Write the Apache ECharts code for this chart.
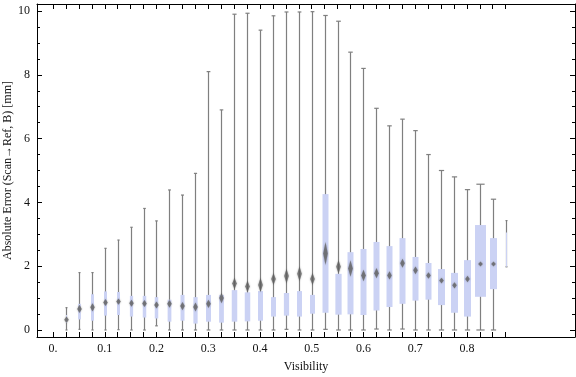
<!DOCTYPE html>
<html>
<head>
<meta charset="utf-8">
<script src="https://cdn.jsdelivr.net/npm/echarts@6/dist/echarts.min.js"></script>
<style>
html,body{margin:0;padding:0;background:#fff}
#main{width:576px;height:377px}
</style>
</head>
<body>
<div id="main"></div>
<script>
// 每个区间的中心 (Visibility)
var visibility = [0.025,0.05,0.075,0.1,0.125,0.15,0.175,0.2,0.225,0.25,0.275,0.3,0.325,0.35,0.375,0.4,0.425,0.45,0.475,0.5,0.525,0.55,0.575,0.6,0.625,0.65,0.675,0.7,0.725,0.75,0.775,0.8,0.825,0.85,0.875]
// 须线下端 / 下四分位 / 中位数 / 上四分位 / 须线上端
var whiskerLow  = [0,0.02,0,0,0.01,0,0,0.13,0,0,0,0,0,0,0,0,0,0.02,0,0,0.02,0,0,0,0.03,0,0.03,0,0,0,0,0,0,0,1.98]
var quart1      = [0.22,0.33,0.29,0.45,0.47,0.42,0.39,0.36,0.26,0.29,0.20,0.26,0.23,0.26,0.27,0.29,0.42,0.45,0.42,0.51,0.54,0.48,0.49,0.47,0.61,0.72,0.82,0.92,0.95,0.78,0.54,0.42,1.04,1.28,1.98]
var medians     = [0.32,0.66,0.71,0.86,0.89,0.84,0.83,0.78,0.82,0.75,0.72,0.82,1.0,1.46,1.36,1.41,1.60,1.69,1.76,1.60,2.40,1.98,1.93,1.71,1.78,1.71,2.09,1.87,1.71,1.55,1.40,1.60,2.07,2.07,null]
var quart3      = [0.47,0.82,1.12,1.21,1.19,1.07,1.07,1.03,0.95,1.10,1.03,1.10,1.10,1.25,1.18,1.22,1.03,1.16,1.22,1.10,4.26,1.76,2.44,2.54,2.76,2.63,2.88,2.29,2.10,1.91,1.79,2.19,3.29,2.88,3.06]
var whiskerHigh = [0.70,1.80,1.80,2.56,2.82,3.22,3.81,3.42,4.39,4.23,4.91,8.10,6.90,9.90,9.93,9.40,9.85,9.97,9.97,9.98,9.86,9.68,8.71,8.20,6.95,6.40,6.61,6.25,5.50,5.00,4.80,4.40,4.57,4.10,3.43]
// 中位数菱形的半高 (置信区间)
var medianSpread = [0.10,0.13,0.13,0.11,0.10,0.11,0.11,0.11,0.12,0.13,0.14,0.13,0.16,0.18,0.18,0.23,0.19,0.23,0.23,0.19,0.36,0.21,0.26,0.18,0.16,0.13,0.14,0.12,0.10,0.09,0.10,0.10,0.08,0.08,0]
// 箱体相对宽度
var boxWidthRel = [0.2,0.55,0.6,0.6,0.6,0.65,0.7,0.7,0.75,0.8,0.85,1.0,0.95,1.1,1.1,1.0,1.0,1.05,1.0,1.0,1.2,1.25,1.2,1.2,1.2,1.2,1.2,1.2,1.2,1.4,1.4,1.4,2.2,1.4,0.2]

var xTickValues = []
for (var i = 0; i <= 35; i++) xTickValues.push(+(i * 0.025).toFixed(3))
var xLabelValues = [0,0.1,0.2,0.3,0.4,0.5,0.6,0.7,0.8]
var yMajor = [0,2,4,6,8,10]
var yMinor = [0.5,1,1.5,2.5,3,3.5,4.5,5,5.5,6.5,7,7.5,8.5,9,9.5]

var boxData = []
for (var k = 0; k < visibility.length; k++) {
    boxData.push([visibility[k], whiskerLow[k], quart1[k], medians[k], quart3[k], whiskerHigh[k], medianSpread[k], boxWidthRel[k]])
}

var serif = 'Liberation Serif'
var frame = { show: true, onZero: false, lineStyle: { color: '#000', width: 1 } }
var noLine = { show: false, onZero: false }
var tickStyle = { color: '#000', width: 1 }

function yAx (pos, ticks, len, labels, line) {
    return {
        type: 'value', position: pos, min: -0.22, max: 10.22,
        axisLine: line ? frame : noLine,
        axisTick: { show: true, inside: true, length: len, customValues: ticks, lineStyle: tickStyle },
        axisLabel: labels ? { show: true, customValues: yMajor, margin: 7, color: '#111', fontFamily: serif, fontSize: 12 } : { show: false },
        splitLine: { show: false }
    }
}

var yLeft = yAx('left', yMajor, 5, true, true)
yLeft.name = 'Absolute Error (Scan\u2192Ref, B) [mm]'
yLeft.nameLocation = 'middle'
yLeft.nameGap = 23
yLeft.nameMoveOverlap = false
yLeft.nameTextStyle = { fontFamily: serif, fontSize: 12, color: '#111' }
var yLeftMinor = yAx('left', yMinor, 3, false, false)
var yRight = yAx('right', yMajor, 5, false, true)
var yRightMinor = yAx('right', yMinor, 3, false, false)

var option = {
    animation: false,
    grid: { left: 37, right: 1, top: 4, bottom: 40, outerBoundsMode: 'none' },
    xAxis: [{
        type: 'value', position: 'bottom', min: -0.031, max: 1.009,
        axisLine: frame,
        axisTick: { show: true, inside: true, length: 5, customValues: xTickValues, lineStyle: tickStyle },
        axisLabel: {
            show: true, customValues: xLabelValues, margin: 6, color: '#111', fontFamily: serif, fontSize: 12,
            formatter: function (v) { return v === 0 ? '0.' : v.toFixed(1) }
        },
        splitLine: { show: false },
        name: 'Visibility', nameLocation: 'middle', nameGap: 24, nameMoveOverlap: false,
        nameTextStyle: { fontFamily: serif, fontSize: 12, color: '#111' }
    }, {
        type: 'value', position: 'top', min: -0.031, max: 1.009,
        axisLine: frame,
        axisTick: { show: true, inside: true, length: 5, customValues: xTickValues, lineStyle: tickStyle },
        axisLabel: { show: false },
        splitLine: { show: false }
    }],
    yAxis: [yLeft, yLeftMinor, yRight, yRightMinor],
    series: [{
        type: 'custom',
        xAxisIndex: 0,
        yAxisIndex: 0,
        data: boxData,
        clip: false,
        renderItem: function (params, api) {
            var x = api.value(0)
            var lo = api.coord([x, api.value(1)])
            var b1 = api.coord([x, api.value(2)])
            var b3 = api.coord([x, api.value(4)])
            var hi = api.coord([x, api.value(5)])
            var cx = Math.round(lo[0]) + 0.5
            var w = Math.max(api.value(7) * 5, 1)
            var cap = Math.max(w * 0.75, 2)
            var grey = { stroke: '#7f7f7f', lineWidth: 1.2 }
            var kids = [
                { type: 'line', shape: { x1: cx, y1: hi[1], x2: cx, y2: lo[1] }, style: grey },
                { type: 'line', shape: { x1: cx - cap / 2, y1: hi[1], x2: cx + cap / 2, y2: hi[1] }, style: grey },
                { type: 'line', shape: { x1: cx - cap / 2, y1: lo[1], x2: cx + cap / 2, y2: lo[1] }, style: grey },
                { type: 'rect', shape: { x: cx - w / 2, y: b3[1], width: w, height: b1[1] - b3[1] }, style: { fill: '#cbd2f4' } }
            ]
            var med = api.value(3)
            if (med !== null && !isNaN(med)) {
                var m = api.coord([x, med])
                var top = api.coord([x, med + api.value(6)])
                var bot = api.coord([x, med - api.value(6)])
                var hw = 2.3
                kids.push({
                    type: 'polygon',
                    shape: { points: [[cx, top[1]], [cx + hw, m[1]], [cx, bot[1]], [cx - hw, m[1]]] },
                    style: { fill: 'rgba(95,95,95,0.75)', shadowBlur: 2, shadowColor: 'rgba(95,95,95,0.6)' }
                })
            }
            return { type: 'group', children: kids }
        }
    }]
}

var chart = echarts.init(document.getElementById('main'))
chart.setOption(option)
</script>
</body>
</html>
